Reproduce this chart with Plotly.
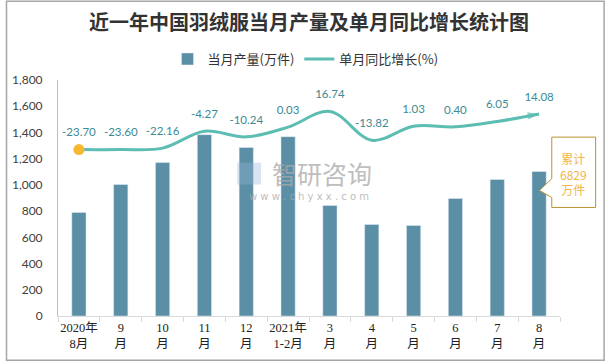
import plotly.graph_objects as go

categories = ["2020年<br>8月", "9<br>月", "10<br>月", "11<br>月", "12<br>月", "2021年<br>1-2月",
              "3<br>月", "4<br>月", "5<br>月", "6<br>月", "7<br>月", "8<br>月"]
output = [790, 1003, 1170, 1383, 1285, 1368, 843, 698, 690, 896, 1041, 1102]
growth = [-23.70, -23.60, -22.16, -4.27, -10.24, 0.03, 16.74, -13.82, 1.03, 0.40, 6.05, 14.08]
growth_labels = ["-23.70", "-23.60", "-22.16", "-4.27", "-10.24", "0.03", "16.74", "-13.82",
                 "1.03", "0.40", "6.05", "14.08"]

title = "近一年中国羽绒服当月产量及单月同比增长统计图"
bar_name = "当月产量(万件)"
line_name = "单月同比增长(%)"
callout_text = "累计<br>6829<br>万件"

BAR = "#5B8FA6"
LINE = "#5CBDB2"
LABEL = "#3B8A94"
ORANGE = "#F2B544"
CJK = "Noto Sans CJK SC"

fig = go.Figure()
fig.add_trace(go.Bar(x=categories, y=output, name=bar_name, marker_color=BAR, width=0.34))
fig.add_trace(go.Scatter(x=categories, y=growth, name=line_name, yaxis="y2", mode="lines",
                         line=dict(color=LINE, width=3, shape="spline", smoothing=1)))
# data labels (invisible markers give the offset above the point)
fig.add_trace(go.Scatter(x=categories, y=growth, yaxis="y2", mode="markers+text", showlegend=False,
                         hoverinfo="skip", text=growth_labels, textposition="top center",
                         textfont=dict(family="Lato, " + CJK, size=11.5, color=LABEL),
                         marker=dict(size=15, color="rgba(0,0,0,0)", line=dict(width=0))))
# start dot
fig.add_trace(go.Scatter(x=categories[:1], y=growth[:1], yaxis="y2", mode="markers", showlegend=False,
                         hoverinfo="skip", marker=dict(size=11, color="#F5B82E", line=dict(width=0))))
# arrow head at the end
fig.add_trace(go.Scatter(x=categories[-2:], y=growth[-2:], yaxis="y2", mode="markers", showlegend=False,
                         hoverinfo="skip",
                         marker=dict(size=[0, 12], symbol="arrow", angleref="previous",
                                     color=LINE, line=dict(width=0))))

annotations = [
    dict(x=1.027, y=0.603, xref="paper", yref="paper", text=callout_text,
         xanchor="center", yanchor="middle",
         showarrow=False, font=dict(family=CJK, size=12, color=ORANGE)),
    dict(x=0.525, y=(317 - 173) / 237, xref="paper", yref="paper", text="智研咨询",
         xanchor="center", yanchor="middle",
         showarrow=False, font=dict(family=CJK, size=25, color="#A9A9A9"), opacity=0.75),
    dict(x=0.5, y=(317 - 197) / 237, xref="paper", yref="paper", text="w w w . c h y x x . c o m",
         xanchor="center", yanchor="middle",
         showarrow=False, font=dict(family="DejaVu Sans", size=10, color="#A9A9A9"), opacity=0.75),
]

shapes = [
    dict(type="path", xref="paper", yref="paper",
         path="M 0.9836 0.758 L 1.071 0.758 L 1.071 0.460 L 0.9836 0.460 L 0.9836 0.502 L 0.959 0.532 L 0.9836 0.582 Z",
         fillcolor="white", line=dict(color="#B8922F", width=1)),
    dict(type="rect", xref="paper", yref="paper", x0=-0.1026, x1=1.0878, y0=-0.1878, y1=1.3333,
         line=dict(color="#A6A6A6", width=1.5), fillcolor="rgba(0,0,0,0)"),
    dict(type="rect", xref="paper", yref="paper", x0=(234 - 53) / 507, x1=(258 - 53) / 507,
         y0=(317 - 185) / 237, y1=(317 - 163) / 237, line=dict(width=0),
         fillcolor="rgba(150,180,215,0.35)"),
]

n = len(categories)
fig.update_layout(
    width=606, height=363,
    margin=dict(l=53, r=46, t=80, b=46),
    paper_bgcolor="white", plot_bgcolor="white",
    title=dict(text="<b>" + title + "</b>", x=0.5, xref="paper", xanchor="center", y=1 - 23 / 363,
               yanchor="middle", font=dict(family=CJK, size=20, color="#333333")),
    legend=dict(orientation="h", x=0.493, xanchor="center", y=1.089, yanchor="middle",
                font=dict(family=CJK, size=13, color="#333333"), itemwidth=30,
                bgcolor="rgba(0,0,0,0)"),
    xaxis=dict(type="category", range=[-0.5, n - 0.5], autorange=False,
               showline=True, linecolor="#D9D9D9", linewidth=1,
               ticks="outside", tickson="boundaries", ticklen=5, tickcolor="#D9D9D9",
               showgrid=False, tickangle=0,
               tickfont=dict(family="Liberation Serif, " + CJK, size=12.5, color="#222222")),
    yaxis=dict(range=[0, 1800], dtick=200, tickformat=",", showline=True, linecolor="#BFBFBF",
               linewidth=1, showgrid=False, zeroline=False, ticks="", ticklabelstandoff=12,
               tickfont=dict(family="Lato, Liberation Sans", size=12, color="#404040")),
    yaxis2=dict(range=[-200, 50], autorange=False, overlaying="y", visible=False),
    bargap=0.66,
    annotations=annotations,
    shapes=shapes,
    showlegend=True,
)

fig.write_html("out.html", config={"displayModeBar": False},
               post_script="document.body.style.margin='0px';")
